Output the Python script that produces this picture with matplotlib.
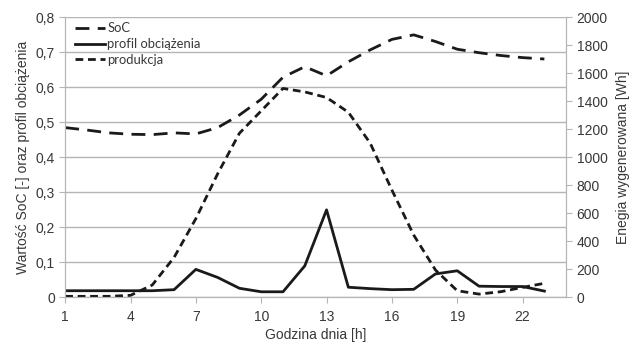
import numpy as np
import matplotlib.pyplot as plt
from matplotlib.ticker import FuncFormatter

# hours of the day
godzina = np.arange(1, 24)
# SoC [-] (left axis)
soc = [0.484, 0.477, 0.469, 0.465, 0.464, 0.469, 0.466, 0.484, 0.520, 0.565,
       0.628, 0.658, 0.632, 0.672, 0.706, 0.736, 0.749, 0.730, 0.708, 0.698,
       0.690, 0.684, 0.680]
# load profile (left axis)
obciazenie = [0.018, 0.018, 0.018, 0.018, 0.018, 0.021, 0.079, 0.056, 0.025, 0.015,
              0.015, 0.089, 0.249, 0.028, 0.024, 0.021, 0.022, 0.066, 0.075, 0.031,
              0.030, 0.030, 0.017]
# generated energy [Wh] (right axis)
produkcja = [5, 5, 5, 12, 86, 283, 560, 880, 1170, 1330,
             1490, 1465, 1425, 1320, 1100, 764, 443, 193, 45, 21,
             38, 69, 98]

plt.rcParams['font.family'] = ['Liberation Sans', 'DejaVu Sans']
kolor = '#1a1a1a'
szary = '#b5b5b5'
tekst = '#383838'

fig = plt.figure(figsize=(6.39, 3.47), dpi=100)
ax = fig.add_axes([0.102, 0.144, 0.784, 0.807])
ax2 = ax.twinx()

l1, = ax.plot(godzina, soc, color=kolor, lw=2.0, dashes=(5, 3), label='SoC')
l2, = ax.plot(godzina, obciazenie, color=kolor, lw=2.0, label='profil obciążenia')
l3, = ax2.plot(godzina, produkcja, color=kolor, lw=2.0, dashes=(2.8, 1.7), label='produkcja')

ax.set_xlim(1, 24)
ax.set_ylim(0, 0.8)
ax2.set_ylim(0, 2000)
ax.set_xticks(np.arange(1, 24, 3))
ax.set_yticks(np.arange(0, 0.81, 0.1))
ax2.set_yticks(np.arange(0, 2001, 200))
ax.yaxis.set_major_formatter(FuncFormatter(lambda v, p: '0' if abs(v) < 1e-9 else ('%.1f' % v).replace('.', ',')))

ax.grid(axis='y', color=szary, lw=1)
ax.set_axisbelow(True)
for a in (ax, ax2):
    for s in a.spines.values():
        s.set_color(szary)
    a.spines['top'].set_visible(False)
    a.tick_params(colors=szary, labelcolor=tekst, labelsize=10, length=4)
ax.tick_params(axis='x', pad=5)

ax.set_xlabel('Godzina dnia [h]', fontsize=10, color=tekst, labelpad=3)
ax.set_ylabel('Wartość SoC [-] oraz profil obciążenia', fontsize=10, color=tekst, labelpad=4)
ax2.set_ylabel('Enegia wygenerowana [Wh]', fontsize=10, color=tekst, labelpad=6)

leg = ax.legend(handles=[l1, l2, l3], loc='upper left', frameon=False,
                prop={'family': 'Lato', 'size': 9.4}, handlelength=2.3,
                handletextpad=0.15, labelspacing=0.3, borderaxespad=0.0,
                bbox_to_anchor=(0.01, 1.0))
for t in leg.get_texts():
    t.set_color(tekst)

fig.savefig('out.png', dpi=100)
